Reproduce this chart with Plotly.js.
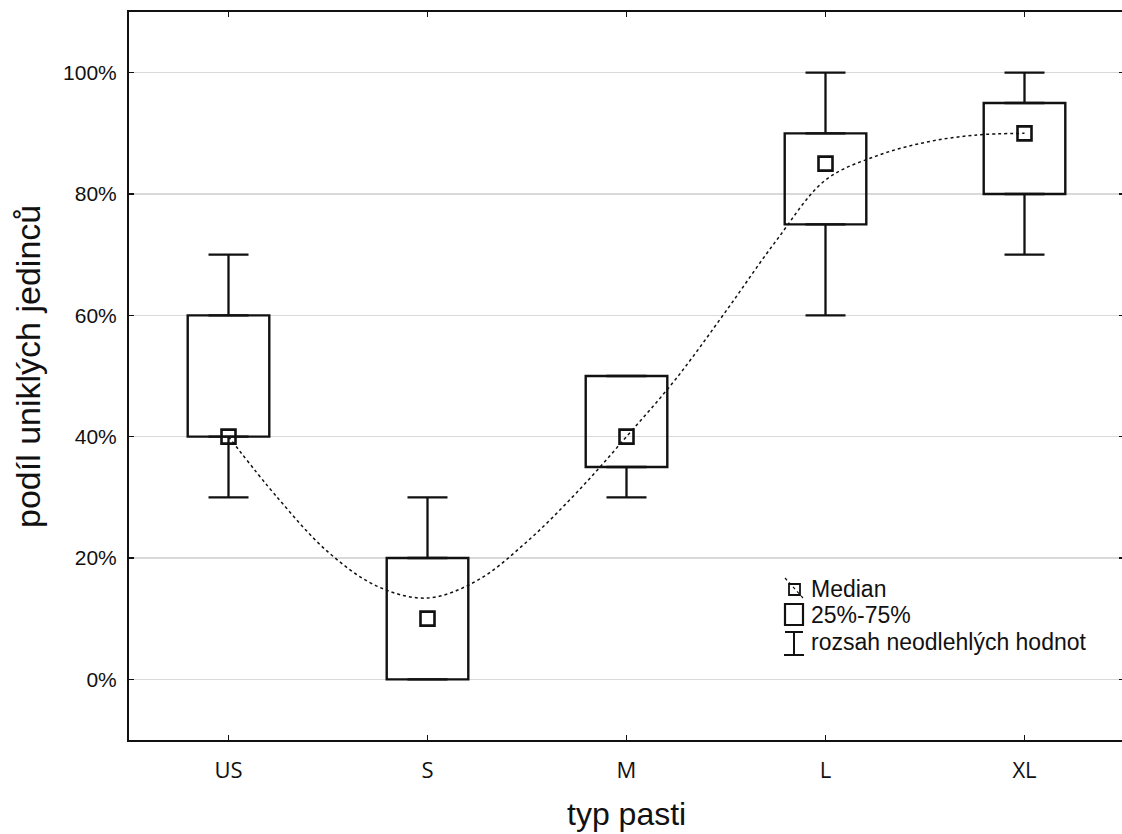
<!DOCTYPE html>
<html>
<head>
<meta charset="utf-8">
<script src="https://cdn.plot.ly/plotly-3.0.1.min.js"></script>
<style>
html,body{margin:0;padding:0;overflow:hidden;background:#fff;}
#chart{width:1126px;height:834px;}
</style>
</head>
<body>
<div id="chart"></div>
<script>
// ---- data ----
const categories = ["US", "S", "M", "L", "XL"];
const lowerWhisker = [0.30, 0.00, 0.30, 0.60, 0.70];
const q1 = [0.40, 0.00, 0.35, 0.75, 0.80];
const median = [0.40, 0.10, 0.40, 0.85, 0.90];
const q3 = [0.60, 0.20, 0.50, 0.90, 0.95];
const upperWhisker = [0.70, 0.30, 0.50, 1.00, 1.00];
// smoothed fit line (x in category index units)
const fitX = [0, 0.25, 0.5, 0.75, 1.0, 1.25, 1.5, 1.75, 2.0, 2.25, 2.5, 2.75, 3.0, 3.25, 3.5, 3.75, 4.0];
const fitY = [0.40, 0.298, 0.21, 0.153, 0.134, 0.163, 0.227, 0.308, 0.40, 0.496, 0.607, 0.722, 0.823, 0.862, 0.885, 0.897, 0.90];
const yTicks = [0, 0.2, 0.4, 0.6, 0.8, 1.0];
const yTickText = ["0%", "20%", "40%", "60%", "80%", "100%"];
const legendLabels = ["Median", "25%-75%", "rozsah neodlehlých hodnot"];

// ---- layout helpers ----
const L = 129, T = 12, W = 995, H = 728;
const px = x => (x - L) / W;
const py = y => (T + H - y) / H;

const idx = categories.map((c, i) => i);

const boxes = {
  type: 'bar', x: idx, base: q1, y: q3.map((v, i) => v - q1[i]),
  width: 0.41, marker: {color: 'rgba(255,255,255,0)', line: {color: '#111', width: 2.4}},
  hoverinfo: 'skip', showlegend: false
};
const upperW = {
  type: 'scatter', mode: 'markers', x: idx, y: q3,
  marker: {size: 1, color: 'rgba(0,0,0,0)'},
  error_y: {type: 'data', symmetric: false, array: upperWhisker.map((v, i) => v - q3[i]),
            arrayminus: idx.map(() => 0), color: '#111', thickness: 2.3, width: 20},
  hoverinfo: 'skip', showlegend: false
};
const lowerW = {
  type: 'scatter', mode: 'markers', x: idx, y: q1,
  marker: {size: 1, color: 'rgba(0,0,0,0)'},
  error_y: {type: 'data', symmetric: false, array: idx.map(() => 0),
            arrayminus: q1.map((v, i) => v - lowerWhisker[i]), color: '#111', thickness: 2.3, width: 20},
  hoverinfo: 'skip', showlegend: false
};
const fit = {
  type: 'scatter', mode: 'lines', x: fitX, y: fitY,
  line: {color: '#111', width: 1.5, dash: 'dot', shape: 'spline', smoothing: 1},
  hoverinfo: 'skip', showlegend: false
};
const med = {
  type: 'scatter', mode: 'markers', x: idx, y: median,
  marker: {symbol: 'square-open', size: 14, color: '#111', line: {width: 2.6, color: '#111'}},
  hoverinfo: 'skip', showlegend: false
};

const shapes = [
  // legend: median symbol
  {type: 'rect', xref: 'paper', yref: 'paper', x0: px(789), x1: px(800), y0: py(595), y1: py(584), line: {color: '#111', width: 1.8}},
  {type: 'line', xref: 'paper', yref: 'paper', x0: px(785), x1: px(803), y0: py(578), y1: py(598), line: {color: '#111', width: 1.2, dash: 'dot'}},
  // legend: box symbol
  {type: 'rect', xref: 'paper', yref: 'paper', x0: px(785), x1: px(803), y0: py(625), y1: py(604), line: {color: '#111', width: 2.2}},
  // legend: whisker symbol
  {type: 'line', xref: 'paper', yref: 'paper', x0: px(794), x1: px(794), y0: py(632), y1: py(655), line: {color: '#111', width: 2}},
  {type: 'line', xref: 'paper', yref: 'paper', x0: px(785), x1: px(803), y0: py(632), y1: py(632), line: {color: '#111', width: 2}},
  {type: 'line', xref: 'paper', yref: 'paper', x0: px(784), x1: px(804), y0: py(655), y1: py(655), line: {color: '#111', width: 2}}
];

const legendFont = {family: 'Liberation Sans, Arial, sans-serif', size: 23, color: '#111'};
const annotations = [
  {xref: 'paper', yref: 'paper', x: px(809), y: py(589), text: legendLabels[0], showarrow: false, xanchor: 'left', yanchor: 'middle', font: legendFont},
  {xref: 'paper', yref: 'paper', x: px(809), y: py(615), text: legendLabels[1], showarrow: false, xanchor: 'left', yanchor: 'middle', font: legendFont},
  {xref: 'paper', yref: 'paper', x: px(809), y: py(642), text: legendLabels[2], showarrow: false, xanchor: 'left', yanchor: 'middle', font: legendFont},
  {xref: 'paper', yref: 'paper', x: px(28), y: py(367), text: 'podíl uniklých jedinců', textangle: -90, showarrow: false,
   xanchor: 'center', yanchor: 'middle', font: {family: 'Liberation Sans, Arial, sans-serif', size: 34, color: '#111'}},
  {xref: 'paper', yref: 'paper', x: px(626), y: py(814), text: 'typ pasti', showarrow: false,
   xanchor: 'center', yanchor: 'middle', font: {family: 'Liberation Sans, Arial, sans-serif', size: 32, color: '#111'}}
];

const layout = {
  width: 1126, height: 834,
  margin: {l: L, r: 1126 - L - W, t: T, b: 834 - T - H, pad: 0},
  paper_bgcolor: '#fff', plot_bgcolor: '#fff',
  showlegend: false,
  xaxis: {
    range: [-0.5, 4.5], tickmode: 'array', tickvals: idx, ticktext: categories,
    showgrid: false, zeroline: false,
    showline: true, linecolor: '#111', linewidth: 2, mirror: 'ticks',
    ticks: 'inside', ticklen: 5, tickwidth: 1.5, tickcolor: '#111',
    tickfont: {family: 'Open Sans, sans-serif', size: 22, color: '#111'},
    ticklabelstandoff: 10
  },
  yaxis: {
    range: [-0.1, 1.1], tickmode: 'array', tickvals: yTicks, ticktext: yTickText,
    showgrid: true, gridcolor: '#d9d9d9', gridwidth: 1.5, zeroline: false,
    showline: true, linecolor: '#111', linewidth: 2, mirror: 'ticks',
    ticks: 'inside', ticklen: 5, tickwidth: 1.5, tickcolor: '#111',
    tickfont: {family: 'Liberation Sans, Arial, sans-serif', size: 21, color: '#111'},
    ticklabelstandoff: 6
  },
  shapes: shapes,
  annotations: annotations
};

Plotly.newPlot('chart', [boxes, upperW, lowerW, med, fit], layout, {displayModeBar: false, staticPlot: true});
</script>
</body>
</html>
